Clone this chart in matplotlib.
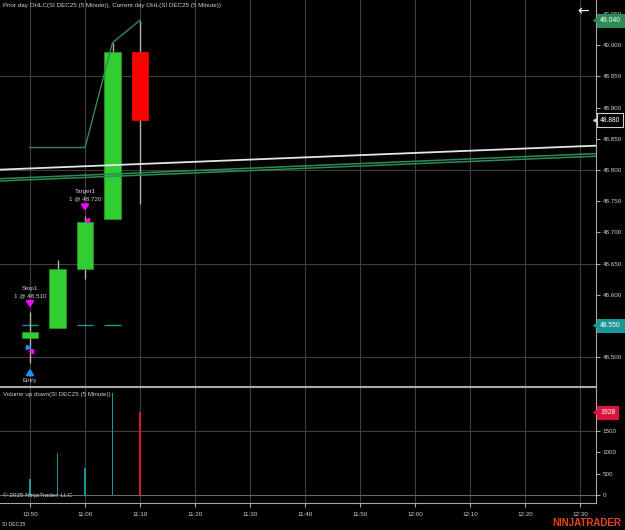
import numpy as np
import matplotlib
matplotlib.use('Agg')
import matplotlib.pyplot as plt

# 5 minute bars, SI DEC25
bar_times = ["10:50", "10:55", "11:00", "11:05", "11:10"]
opens = [48.531, 48.546, 48.641, 48.721, 48.989]
highs = [48.573, 48.656, 48.726, 49.004, 49.039]
lows = [48.491, 48.546, 48.626, 48.721, 48.745]
closes = [48.541, 48.641, 48.716, 48.989, 48.880]
volumes = [372, 970, 635, 2380, 1928]

# current day high / low plots
day_high = [48.836, 48.836, 48.836, 49.004, 49.040]
day_low = [48.551, 48.551, 48.551, 48.551]

# drawn trend lines: (start time, start price, end time, end price)
trend_white = ("10:40", 48.7989, "12:40", 48.8415)
trend_green1 = ("10:40", 48.7843, "12:40", 48.8288)
trend_green2 = ("10:40", 48.7807, "12:40", 48.8247)

# orders
stop_price = 48.510
target_price = 48.720
entry_price = 48.516

x_ticks = ["10:50", "11:00", "11:10", "11:20", "11:30", "11:40", "11:50",
           "12:00", "12:10", "12:20", "12:30"]
price_ticks = np.round(np.arange(48.50, 49.051, 0.05), 3)
vol_ticks = [0, 500, 1000, 1500]


def to_min(s):
    h, m = s.split(":")
    return int(h) * 60 + int(m)


t = np.array([to_min(s) for s in bar_times], dtype=float)
xt = [to_min(s) for s in x_ticks]

plt.rcParams['font.family'] = ['Liberation Sans', 'DejaVu Sans']
fs = 4.5
txt = '#d0d0d0'
grid = '#3e3e3e'
axcol = '#a8a8a8'
green = '#32cd32'
red = '#ff0000'
teal = '#199696'
dgreen = '#2e8b57'

fig = plt.figure(figsize=(6.25, 5.3), dpi=100, facecolor='black')
ax = fig.add_axes([0, (530 - 386) / 530, 596 / 625, 386 / 530])
axv = fig.add_axes([0, (530 - 503) / 530, 596 / 625, (503 - 387) / 530], sharex=ax)

for a in (ax, axv):
    a.set_facecolor('black')
    for s in ('left', 'top'):
        a.spines[s].set_visible(False)
    a.spines['right'].set_color(axcol)
    a.spines['bottom'].set_color(axcol)
    a.yaxis.tick_right()
    a.tick_params(axis='y', colors=axcol, labelcolor=txt, labelsize=fs,
                  length=3, width=0.8, pad=2)
    for x in xt:
        a.axvline(x, color=grid, lw=0.8, zorder=0)

ax.set_xlim(644.545, 752.91)
ax.set_ylim(48.4538, 49.0724)
ax.set_yticks(price_ticks)
ax.set_yticklabels([f"{p:.3f}" for p in price_ticks])
ax.tick_params(axis='x', length=0, labelbottom=False)
for p in [48.50, 48.65, 48.80, 48.95]:
    ax.axhline(p, color=grid, lw=0.8, zorder=0)

# candles
w = 3.0
for i in range(len(t)):
    col = green if closes[i] >= opens[i] else red
    ax.vlines(t[i], lows[i], highs[i], color='#b0b0b0', lw=1, zorder=2)
    lo, hi = min(opens[i], closes[i]), max(opens[i], closes[i])
    ax.bar(t[i], hi - lo, w, bottom=lo, color=col,
           edgecolor='#22a022' if col == green else red, lw=0.5, zorder=3)

# current day OHL
ax.plot(t, day_high, color=dgreen, lw=1, zorder=4)
for i, v in enumerate(day_low):
    ax.hlines(v, t[i] - 1.5, t[i] + 1.5, color=teal, lw=1, zorder=1)

# trend lines
for tl, c, lw in [(trend_white, '#e6e6e6', 1.3), (trend_green1, dgreen, 1.1),
                  (trend_green2, dgreen, 1.1)]:
    ax.plot([to_min(tl[0]), to_min(tl[2])], [tl[1], tl[3]], color=c, lw=lw, zorder=5)

# order markers
arrow = dict(arrowstyle='-|>,head_width=0.2,head_length=0.3', lw=1.8)
ax.annotate('', xy=(t[0], 48.575), xytext=(t[0], 48.591),
            arrowprops=dict(arrow, color='#ff00ff'), zorder=6)
ax.text(t[0], 48.595, "Stop1\n1 @ 48.510", color=txt, fontsize=fs,
        ha='center', va='bottom', linespacing=1.5)
ax.plot(t[0] + 0.25, stop_price, marker='<', color='#ff00ff', ms=3, zorder=6)
ax.plot(t[0] - 0.3, entry_price, marker='>', color='#1e90ff', ms=3, zorder=6)
ax.annotate('', xy=(t[0], 48.486), xytext=(t[0], 48.470),
            arrowprops=dict(arrow, color='#1e90ff'), zorder=6)
ax.text(t[0], 48.463, "Entry", color=txt, fontsize=fs, ha='center', va='center')

ax.annotate('', xy=(t[2], 48.730), xytext=(t[2], 48.746),
            arrowprops=dict(arrow, color='#ff00ff'), zorder=6)
ax.text(t[2], 48.750, "Target1\n1 @ 48.720", color=txt, fontsize=fs,
        ha='center', va='bottom', linespacing=1.5)
ax.plot(t[2] + 0.3, target_price, marker='<', color='#ff00ff', ms=3, zorder=6)

ax.text(0.005, 0.993, "Prior day OHLC(SI DEC25 (5 Minute)), Current day OHL(SI DEC25 (5 Minute))",
        transform=ax.transAxes, color=txt, fontsize=fs, va='top', ha='left')


def axis_label(a, val, text, fc, ec, tc):
    tr = a.get_yaxis_transform()
    a.plot(1.0, val, marker='<', ms=5, color=ec, transform=tr, clip_on=False, zorder=10)
    a.annotate(text, xy=(1.0, val), xycoords=tr, xytext=(4, 0),
               textcoords='offset pixels', va='center', ha='left', color=tc,
               fontsize=4.9, zorder=11, annotation_clip=False,
               bbox=dict(boxstyle='square,pad=0.45', fc=fc, ec=ec, lw=0.8))


axis_label(ax, 49.040, "49.040", dgreen, dgreen, 'white')
axis_label(ax, 48.880, "48.880", 'black', '#d0d0d0', 'white')
axis_label(ax, 48.551, "48.550", teal, teal, 'white')

# volume panel
vcols = [teal if c >= o else '#dc143c' for o, c in zip(opens, closes)]
axv.bar(t, volumes, 0.35, color=vcols, zorder=3)
axv.set_ylim(-186, 2512)
axv.set_yticks(vol_ticks)
axv.axhline(0, color='#6a6a6a', lw=0.8, zorder=1)
axv.axhline(1500, color=grid, lw=0.8, zorder=0)
axv.spines['top'].set_visible(True)
axv.spines['top'].set_color(axcol)
axv.set_xticks(xt)
axv.set_xticklabels(x_ticks)
axv.tick_params(axis='x', colors=axcol, labelcolor=txt, labelsize=fs,
                length=3, width=0.8, pad=3.5)
axv.text(0.005, 0.955, "Volume up down(SI DEC25 (5 Minute))", transform=axv.transAxes,
         color=txt, fontsize=fs, va='top', ha='left')
axv.text(0.005, 0.045, "\u00a9 2025 NinjaTrader, LLC", transform=axv.transAxes,
         color=txt, fontsize=fs, va='bottom', ha='left', zorder=5)
axis_label(axv, volumes[-1], str(volumes[-1]), '#dc143c', '#dc143c', 'white')

fig.text(2 / 625, 1 - 524 / 530, "SI DEC25", color=txt, fontsize=3.8, va='center')
fig.text(621 / 625, 1 - 523 / 530, "NINJATRADER", color='#e8441e', fontsize=7,
         fontweight='bold', ha='right', va='center')
fig.text(583 / 625, 1 - 11 / 530, "\u2190", color='white', fontsize=10,
         ha='center', va='center', family='DejaVu Sans')

fig.savefig('out.png', dpi=100, facecolor='black')
